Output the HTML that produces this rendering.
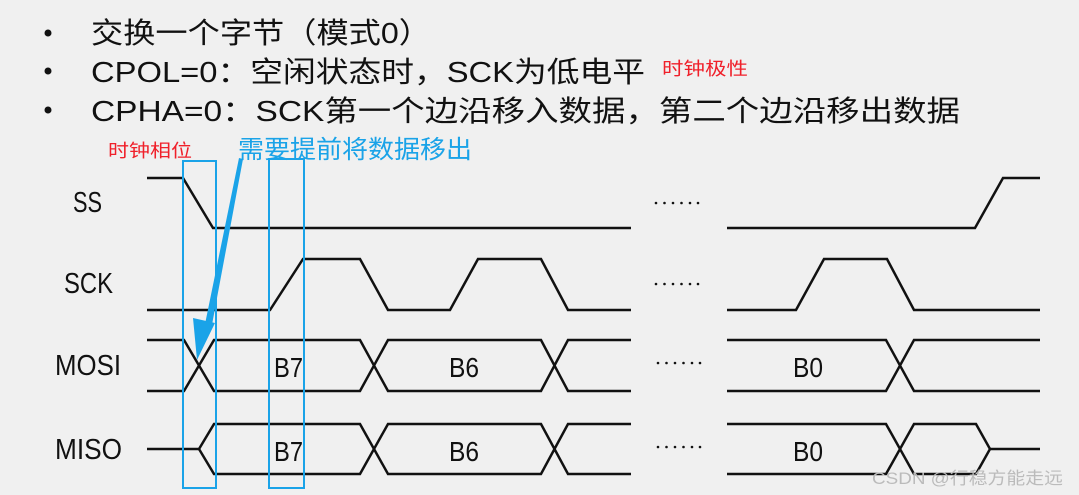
<!DOCTYPE html>
<html><head><meta charset="utf-8"><style>
html,body{margin:0;padding:0;background:#f0f0f0;}
svg{display:block;}
</style></head><body>
<svg width="1079" height="495" viewBox="0 0 1079 495" xmlns="http://www.w3.org/2000/svg" font-family="'Liberation Sans','Noto Sans CJK SC',sans-serif">
<rect width="1079" height="495" fill="#f0f0f0"/>
<g fill="#111">
<circle cx="48" cy="33" r="3.5"/><circle cx="48" cy="71" r="3.5"/><circle cx="48" cy="110" r="3.5"/>
<text x="91" y="43" font-size="29" textLength="340" lengthAdjust="spacingAndGlyphs">交换一个字节（模式0）</text>
<text x="91" y="82" font-size="29" textLength="554" lengthAdjust="spacingAndGlyphs">CPOL=0：空闲状态时，SCK为低电平</text>
<text x="91" y="121" font-size="29" textLength="869" lengthAdjust="spacingAndGlyphs">CPHA=0：SCK第一个边沿移入数据，第二个边沿移出数据</text>
</g>
<text x="662" y="75" font-size="18" fill="#f0202a" textLength="86" lengthAdjust="spacingAndGlyphs">时钟极性</text>
<text x="108" y="157" font-size="18" fill="#f0202a" textLength="84" lengthAdjust="spacingAndGlyphs">时钟相位</text>
<text x="238" y="158" font-size="25" fill="#1aa3e8" textLength="234" lengthAdjust="spacingAndGlyphs">需要提前将数据移出</text>
<g font-size="29" fill="#111">
<text x="73" y="212" textLength="29" lengthAdjust="spacingAndGlyphs">SS</text>
<text x="64" y="293" textLength="49" lengthAdjust="spacingAndGlyphs">SCK</text>
<text x="55" y="375" textLength="66" lengthAdjust="spacingAndGlyphs">MOSI</text>
<text x="55" y="459" textLength="67" lengthAdjust="spacingAndGlyphs">MISO</text>
</g>
<g fill="none" stroke="#111" stroke-width="2.5">
<polyline points="147,178 183,178 213,228 631,228"/>
<polyline points="727,228 975,228 1003,178 1040,178"/>
<polyline points="147,310 270,310 303,259 360,259 388,310 450,310 478,259 541,259 568,310 631,310"/>
<polyline points="727,310 796,310 824,259 887,259 914,310 1040,310"/>
<polyline points="147,340 184,340 214,391 360,391 388,340 541,340 568,391 631,391"/>
<polyline points="147,391 184,391 214,340 360,340 388,391 541,391 568,340 631,340"/>
<polyline points="727,340 886,340 914,391 1040,391"/>
<polyline points="727,391 886,391 914,340 1040,340"/>
<polyline points="147,449 199,449 214,424 360,424 388,474 541,474 568,424 631,424"/>
<polyline points="199,449 214,474 360,474 388,424 541,424 568,474 631,474"/>
<polyline points="727,424 886,424 914,474 976,474 990,449 1040,449"/>
<polyline points="727,474 886,474 914,424 976,424 990,449"/>
</g>
<g fill="#111">
<g transform="translate(655,203)"><circle cx="1" cy="0" r="1.3"/><circle cx="9.5" cy="0" r="1.3"/><circle cx="18" cy="0" r="1.3"/><circle cx="26.5" cy="0" r="1.3"/><circle cx="35" cy="0" r="1.3"/><circle cx="43" cy="0" r="1.3"/></g>
<g transform="translate(655,284)"><circle cx="1" cy="0" r="1.3"/><circle cx="9.5" cy="0" r="1.3"/><circle cx="18" cy="0" r="1.3"/><circle cx="26.5" cy="0" r="1.3"/><circle cx="35" cy="0" r="1.3"/><circle cx="43" cy="0" r="1.3"/></g>
<g transform="translate(657,363)"><circle cx="1" cy="0" r="1.3"/><circle cx="9.5" cy="0" r="1.3"/><circle cx="18" cy="0" r="1.3"/><circle cx="26.5" cy="0" r="1.3"/><circle cx="35" cy="0" r="1.3"/><circle cx="43" cy="0" r="1.3"/></g>
<g transform="translate(657,447)"><circle cx="1" cy="0" r="1.3"/><circle cx="9.5" cy="0" r="1.3"/><circle cx="18" cy="0" r="1.3"/><circle cx="26.5" cy="0" r="1.3"/><circle cx="35" cy="0" r="1.3"/><circle cx="43" cy="0" r="1.3"/></g>
</g>
<g font-size="28" fill="#111">
<text x="274" y="377" textLength="29" lengthAdjust="spacingAndGlyphs">B7</text>
<text x="449" y="377" textLength="30" lengthAdjust="spacingAndGlyphs">B6</text>
<text x="793" y="377" textLength="30" lengthAdjust="spacingAndGlyphs">B0</text>
<text x="274" y="461" textLength="29" lengthAdjust="spacingAndGlyphs">B7</text>
<text x="449" y="461" textLength="30" lengthAdjust="spacingAndGlyphs">B6</text>
<text x="793" y="461" textLength="30" lengthAdjust="spacingAndGlyphs">B0</text>
</g>
<g fill="none" stroke="#1aa3e8" stroke-width="2">
<rect x="183" y="161" width="33" height="327"/>
<rect x="269" y="159" width="35" height="329"/>
</g>
<polygon points="239,158 243,159 211,330 204,329" fill="#1aa3e8"/>
<polygon points="197,360 193,318 215,323" fill="#1aa3e8"/>
<text x="872" y="484" font-size="17" fill="#bbb" textLength="191" lengthAdjust="spacingAndGlyphs">CSDN @行稳方能走远</text>
</svg>
</body></html>
